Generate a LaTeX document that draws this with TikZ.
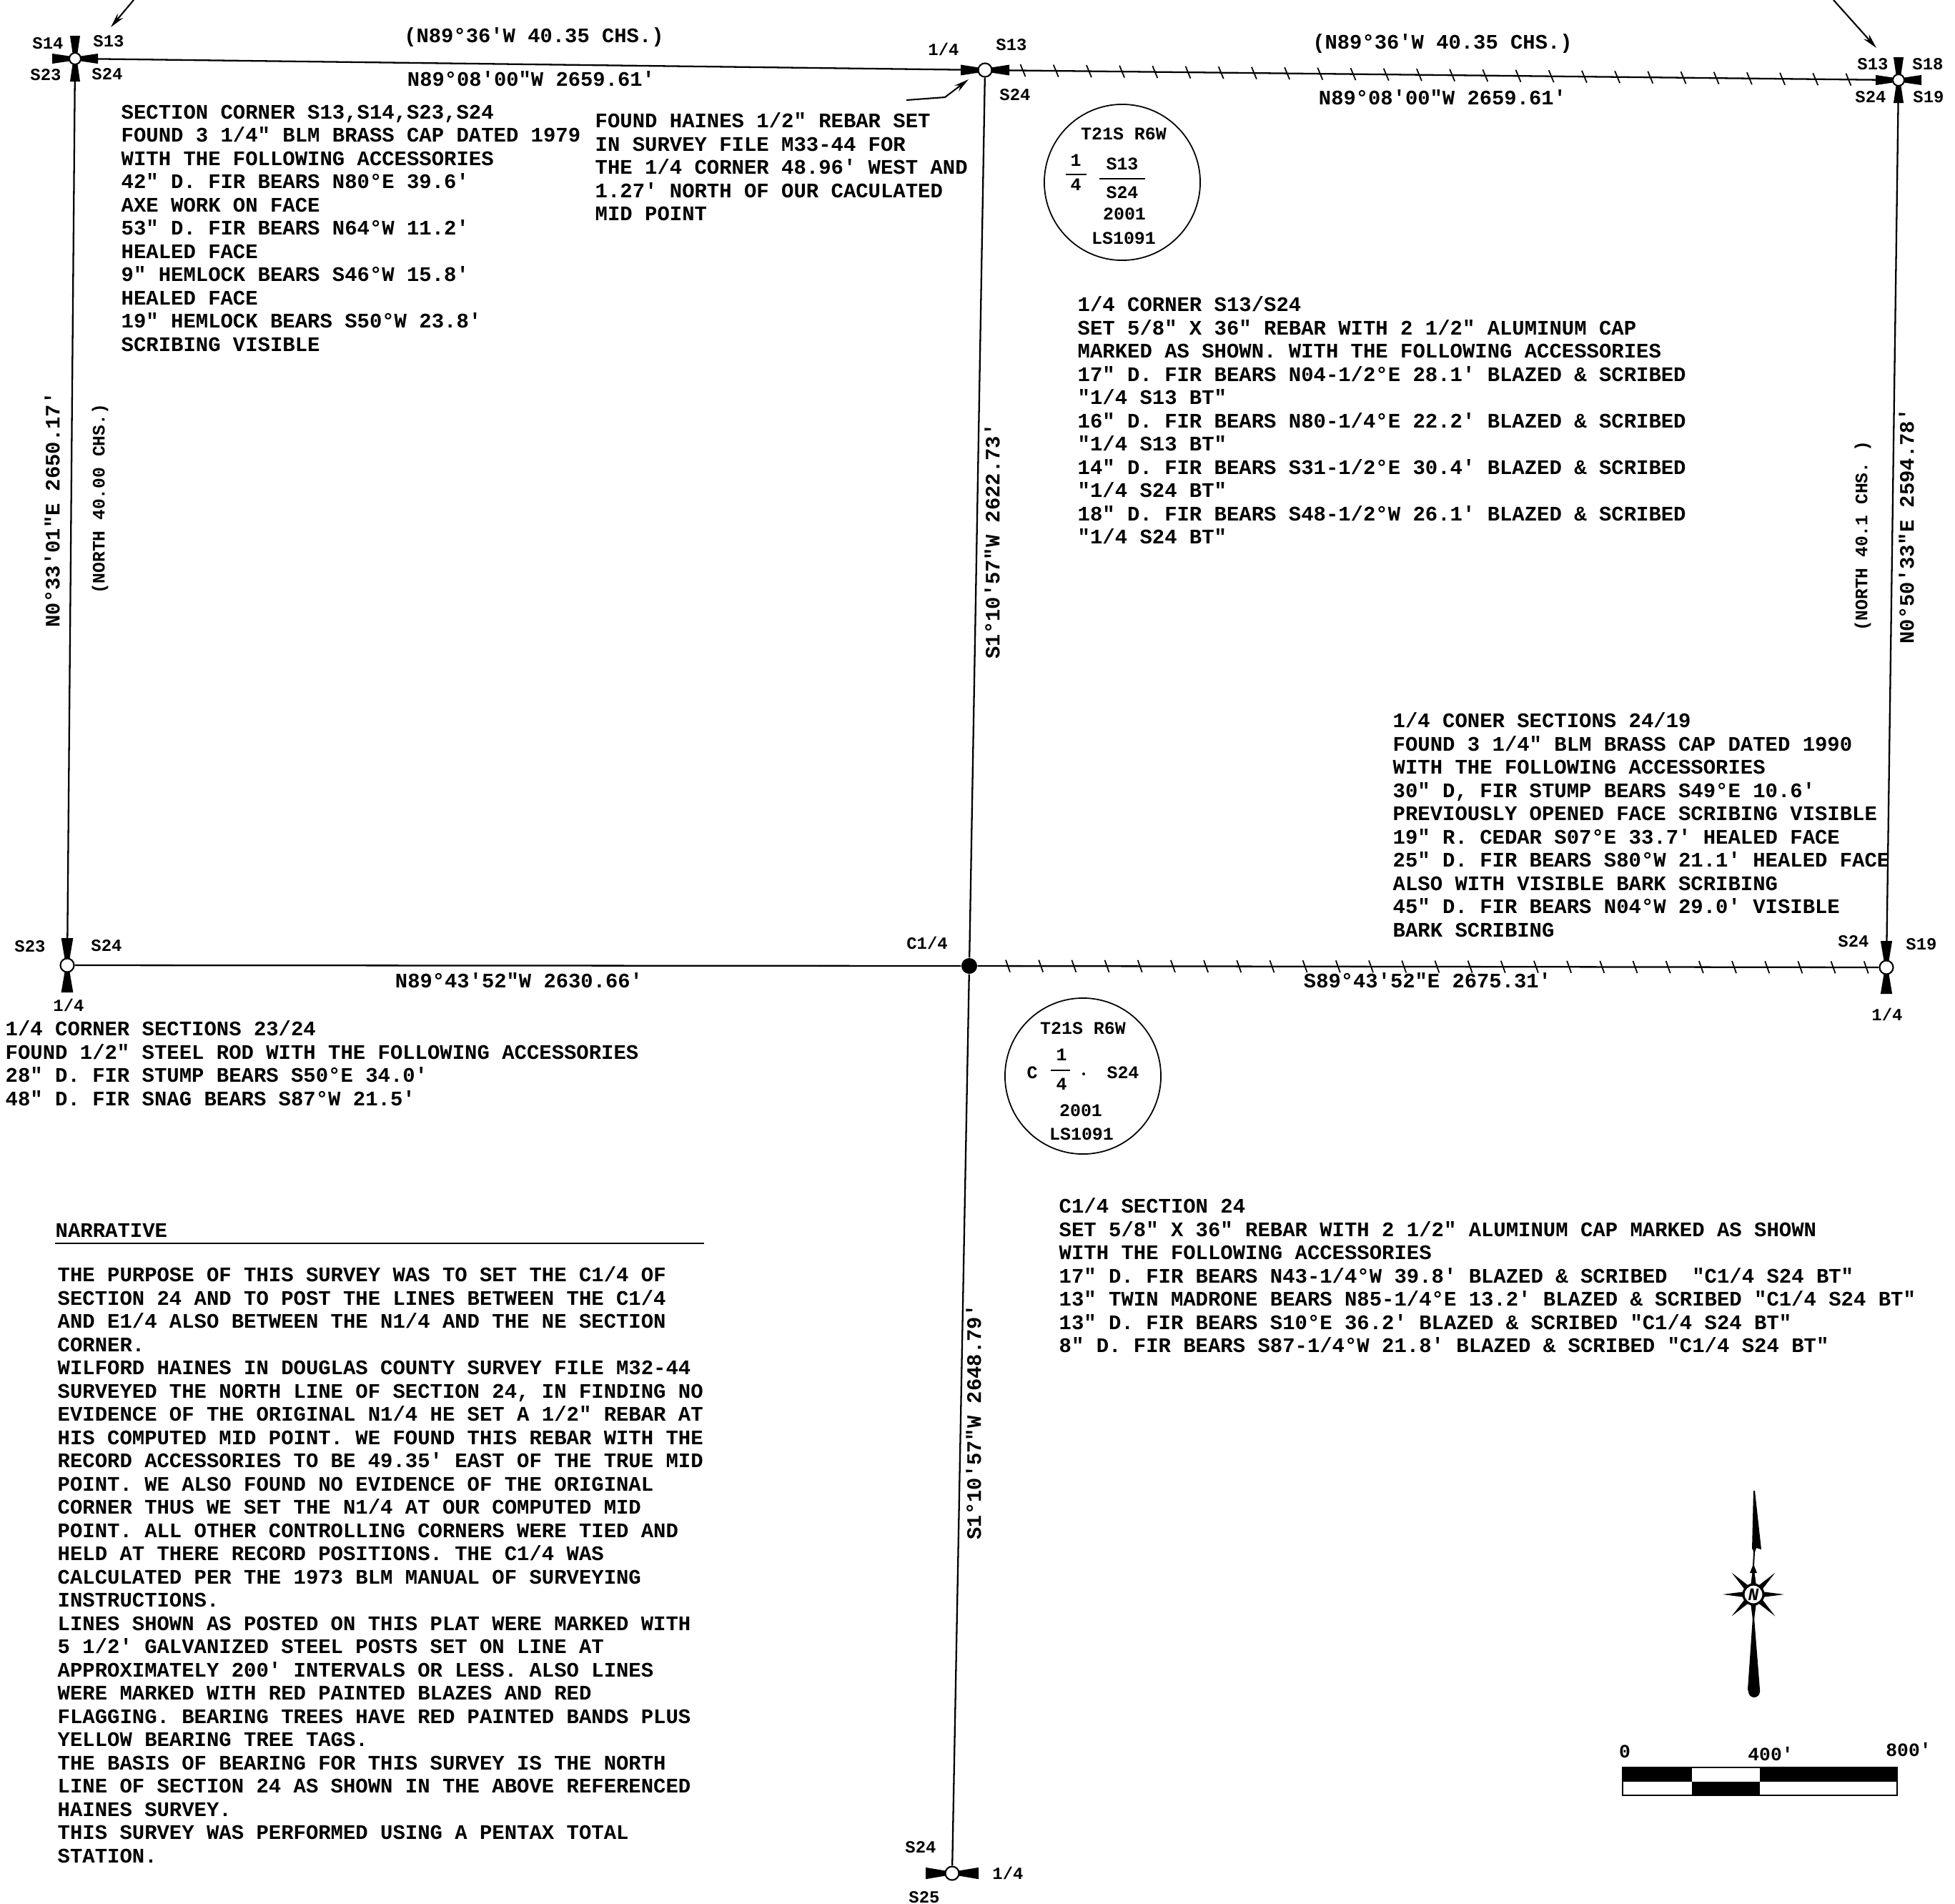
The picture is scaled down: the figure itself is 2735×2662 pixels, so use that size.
\documentclass[tikz,border=0pt]{standalone}
\usepackage{fontspec}
\usetikzlibrary{arrows.meta,calc}
\newfontfamily\platfont{Liberation Mono}
\newcommand{\barb}[3]{\fill[shift={(#1)},rotate=#2] (0.25*#3,-3.5)--(#3,-0.22*#3)--(#3,0.22*#3)--(0.25*#3,3.5)--cycle;}
\tikzset{
    platnote/.style={anchor=north west,inner sep=0pt,align=left,font=\platfont\bfseries\fontsize{8.23pt}{9.24pt}\selectfont},
    bearing/.style={inner sep=0pt,font=\platfont\bfseries\fontsize{8.2pt}{9pt}\selectfont},
    smallbearing/.style={inner sep=0pt,font=\platfont\bfseries\fontsize{7pt}{9pt}\selectfont},
    cornerlabel/.style={inner sep=0pt,font=\platfont\bfseries\fontsize{6.8pt}{8pt}\selectfont},
    sealtext/.style={inner sep=0pt,font=\platfont\bfseries\fontsize{7.1pt}{8pt}\selectfont},
    scalelabel/.style={inner sep=0pt,font=\platfont\bfseries\fontsize{7.5pt}{8pt}\selectfont},
    corner/.style={circle,draw,fill=white,inner sep=0pt,minimum size=0.16cm,line width=0.6pt},
    quartercorner/.style={corner,minimum size=0.19cm},
    platline/.style={line width=0.65pt},
    leader/.style={line width=0.6pt,-{Stealth[length=0.21cm,width=0.1cm]}},
    seal/.style={circle,draw,inner sep=0pt,line width=0.5pt,minimum size=2.18cm}
}
\begin{document}
\begin{tikzpicture}[x=0.01cm,y=-0.01cm]
            \useasboundingbox (0,0) rectangle (2735,2662);
            \node [corner] (nwcorner) at (105,82) {};
            \node [quartercorner] (nquarter) at (1378,98) {};
            \node [corner] (necorner) at (2656,112) {};
            \node [quartercorner] (wquarter) at (94,1350) {};
            \node [circle,fill=black,inner sep=0pt,minimum size=0.22cm] (center) at (1356,1351) {};
            \node [quartercorner] (equarter) at (2639,1353) {};
            \node [quartercorner] (squarter) at (1332,2620) {};
            \draw [platline] (nwcorner)--(nquarter);
            \draw [platline] (nquarter)--(necorner);
            \draw [platline] (nwcorner)--(wquarter);
            \draw [platline] (nquarter)--(center);
            \draw [platline] (necorner)--(equarter);
            \draw [platline] (wquarter)--(center);
            \draw [platline] (center)--(equarter);
            \draw [platline] (center)--(squarter);
            \foreach \i in {0,...,25} {
                \coordinate (tick) at ($(nquarter)!{0.0415+\i*0.03615}!(necorner)$);
                \draw [line width=0.5pt] ([shift={(-3.5,-8.5)}]tick)--([shift={(3.5,8.5)}]tick);
            }
            \foreach \i in {0,...,26} {
                \coordinate (tick) at ($(center)!{0.0421+\i*0.0360}!(equarter)$);
                \draw [line width=0.5pt] ([shift={(-3,-8.5)}]tick)--([shift={(3,8.5)}]tick);
            }
            \foreach \a in {0,90,180,270} {\barb{nwcorner}{\a}{32} \barb{necorner}{\a}{32}}
            \foreach \a in {0,180} {\barb{nquarter}{\a}{34} \barb{squarter}{\a}{37}}
            \foreach \a in {90,270} {\barb{wquarter}{\a}{38} \barb{equarter}{\a}{37}}
            \coordinate (nwleader) at (187,0);
            \coordinate (nwtip) at (155,38);
            \coordinate (neleader) at (2565,0);
            \coordinate (netip) at (2625,67);
            \coordinate (rebarleader) at (1268,140);
            \coordinate (rebarbend) at (1322,136);
            \coordinate (rebartip) at (1355,111);
            \draw [leader] (nwleader)--(nwtip);
            \draw [leader] (neleader)--(netip);
            \draw [leader] (rebarleader)--(rebarbend)--(rebartip);
            \node [cornerlabel] (nwa) at (67,61) {S14};
            \node [cornerlabel] (nwb) at (152,58) {S13};
            \node [cornerlabel] (nwc) at (64,105) {S23};
            \node [cornerlabel] (nwd) at (150,104) {S24};
            \node [cornerlabel] (nqa) at (1320,69) {1/4};
            \node [cornerlabel] (nqb) at (1415,63) {S13};
            \node [cornerlabel] (nqc) at (1420,133) {S24};
            \node [cornerlabel] (nea) at (2620,90) {S13};
            \node [cornerlabel] (neb) at (2697,90) {S18};
            \node [cornerlabel] (nec) at (2617,136) {S24};
            \node [cornerlabel] (ned) at (2698,136) {S19};
            \node [cornerlabel] (wqa) at (42,1324) {S23};
            \node [cornerlabel] (wqb) at (149,1323) {S24};
            \node [cornerlabel] (wqc) at (96,1406) {1/4};
            \node [cornerlabel] (ca) at (1297,1319) {C1/4};
            \node [cornerlabel] (eqa) at (2593,1317) {S24};
            \node [cornerlabel] (eqb) at (2688,1321) {S19};
            \node [cornerlabel] (eqc) at (2640,1419) {1/4};
            \node [cornerlabel] (sqa) at (1288,2584) {S24};
            \node [cornerlabel] (sqb) at (1410,2620) {1/4};
            \node [cornerlabel] (sqc) at (1293,2654) {S25};
            \node [bearing] (recnw) at (747,52) {(N89°36'W 40.35 CHS.)};
            \node [bearing] (bearnw) at (743,110) {N89°08'00"W 2659.61'};
            \node [bearing] (recne) at (2018,61) {(N89°36'W 40.35 CHS.)};
            \node [bearing] (bearne) at (2018,136) {N89°08'00"W 2659.61'};
            \node [bearing] (bearw) at (726,1371) {N89°43'52"W 2630.66'};
            \node [bearing] (beare) at (1997,1371) {S89°43'52"E 2675.31'};
            \node [bearing,rotate=90] (bearwest) at (73,713) {N0°33'01"E 2650.17'};
            \node [smallbearing,rotate=90] (recwest) at (140,698) {(NORTH 40.00 CHS.)};
            \node [bearing,rotate=90] (bearmid) at (1388,757) {S1°10'57"W 2622.73'};
            \node [bearing,rotate=90] (bearsouth) at (1362,1989) {S1°10'57"W 2648.79'};
            \node [smallbearing,rotate=90] (receast) at (2606,750) {(NORTH 40.1 CHS. )};
            \node [bearing,rotate=90] (beareast) at (2667,736) {N0°50'33"E 2594.78'};
            \node [seal] (sealn) at (1570,255) {};
            \node [sealtext] (sna) at (1572,187) {T21S R6W};
            \node [sealtext] (snb) at (1505,224) {1};
            \node [sealtext] (snc) at (1505,258) {4};
            \node [sealtext] (snd) at (1570,229) {S13};
            \node [sealtext] (sne) at (1570,269) {S24};
            \node [sealtext] (snf) at (1573,299) {2001};
            \node [sealtext] (sng) at (1572,333) {LS1091};
            \draw [line width=0.4pt] (1491,244)--(1520,244);
            \draw [line width=0.4pt] (1538,250)--(1602,250);
            \node [seal] (seals) at (1515,1505) {};
            \node [sealtext] (ssa) at (1515,1438) {T21S R6W};
            \node [sealtext] (ssb) at (1444,1500) {C};
            \node [sealtext] (ssc) at (1485,1475) {1};
            \node [sealtext] (ssd) at (1485,1516) {4};
            \node [sealtext] (sse) at (1571,1500) {S24};
            \node [sealtext] (ssf) at (1512,1553) {2001};
            \node [sealtext] (ssg) at (1513,1586) {LS1091};
            \draw [line width=0.4pt] (1470,1497)--(1497,1497);
            \fill (1516,1502) circle [radius=2];
            \node [platnote] (seccorner) at (169,146) {SECTION CORNER S13,S14,S23,S24\\
FOUND 3 1/4" BLM BRASS CAP DATED 1979\\
WITH THE FOLLOWING ACCESSORIES\\
42" D. FIR BEARS N80°E 39.6'\\
AXE WORK ON FACE\\
53" D. FIR BEARS N64°W 11.2'\\
HEALED FACE\\
9" HEMLOCK BEARS S46°W 15.8'\\
HEALED FACE\\
19" HEMLOCK BEARS S50°W 23.8'\\
SCRIBING VISIBLE};
            \node [platnote] (rebarnote) at (832,157) {FOUND HAINES 1/2" REBAR SET\\
IN SURVEY FILE M33-44 FOR\\
THE 1/4 CORNER 48.96' WEST AND\\
1.27' NORTH OF OUR CACULATED\\
MID POINT};
            \node [platnote] (northnote) at (1507,414) {1/4 CORNER S13/S24\\
SET 5/8" X 36" REBAR WITH 2 1/2" ALUMINUM CAP\\
MARKED AS SHOWN. WITH THE FOLLOWING ACCESSORIES\\
17" D. FIR BEARS N04-1/2°E 28.1' BLAZED \& SCRIBED\\
"1/4 S13 BT"\\
16" D. FIR BEARS N80-1/4°E 22.2' BLAZED \& SCRIBED\\
"1/4 S13 BT"\\
14" D. FIR BEARS S31-1/2°E 30.4' BLAZED \& SCRIBED\\
"1/4 S24 BT"\\
18" D. FIR BEARS S48-1/2°W 26.1' BLAZED \& SCRIBED\\
"1/4 S24 BT"};
            \node [platnote] (eastnote) at (1948,996) {1/4 CONER SECTIONS 24/19\\
FOUND 3 1/4" BLM BRASS CAP DATED 1990\\
WITH THE FOLLOWING ACCESSORIES\\
30" D, FIR STUMP BEARS S49°E 10.6'\\
PREVIOUSLY OPENED FACE SCRIBING VISIBLE\\
19" R. CEDAR S07°E 33.7' HEALED FACE\\
25" D. FIR BEARS S80°W 21.1' HEALED FACE\\
ALSO WITH VISIBLE BARK SCRIBING\\
45" D. FIR BEARS N04°W 29.0' VISIBLE\\
BARK SCRIBING};
            \node [platnote] (westnote) at (7,1427) {1/4 CORNER SECTIONS 23/24\\
FOUND 1/2" STEEL ROD WITH THE FOLLOWING ACCESSORIES\\
28" D. FIR STUMP BEARS S50°E 34.0'\\
48" D. FIR SNAG BEARS S87°W 21.5'};
            \node [platnote] (centernote) at (1481,1675) {C1/4 SECTION 24\\
SET 5/8" X 36" REBAR WITH 2 1/2" ALUMINUM CAP MARKED AS SHOWN\\
WITH THE FOLLOWING ACCESSORIES\\
17" D. FIR BEARS N43-1/4°W 39.8' BLAZED \& SCRIBED \ "C1/4 S24 BT"\\
13" TWIN MADRONE BEARS N85-1/4°E 13.2' BLAZED \& SCRIBED "C1/4 S24 BT"\\
13" D. FIR BEARS S10°E 36.2' BLAZED \& SCRIBED "C1/4 S24 BT"\\
8" D. FIR BEARS S87-1/4°W 21.8' BLAZED \& SCRIBED "C1/4 S24 BT"};
            \node [platnote] (narrhead) at (77,1711) {NARRATIVE};
            \coordinate (ruleleft) at (77,1739);
            \coordinate (ruleright) at (985,1739);
            \draw [line width=0.5pt] (ruleleft)--(ruleright);
            \node [platnote] (narrative) at (80,1771) {THE PURPOSE OF THIS SURVEY WAS TO SET THE C1/4 OF\\
SECTION 24 AND TO POST THE LINES BETWEEN THE C1/4\\
AND E1/4 ALSO BETWEEN THE N1/4 AND THE NE SECTION\\
CORNER.\\
WILFORD HAINES IN DOUGLAS COUNTY SURVEY FILE M32-44\\
SURVEYED THE NORTH LINE OF SECTION 24, IN FINDING NO\\
EVIDENCE OF THE ORIGINAL N1/4 HE SET A 1/2" REBAR AT\\
HIS COMPUTED MID POINT. WE FOUND THIS REBAR WITH THE\\
RECORD ACCESSORIES TO BE 49.35' EAST OF THE TRUE MID\\
POINT. WE ALSO FOUND NO EVIDENCE OF THE ORIGINAL\\
CORNER THUS WE SET THE N1/4 AT OUR COMPUTED MID\\
POINT. ALL OTHER CONTROLLING CORNERS WERE TIED AND\\
HELD AT THERE RECORD POSITIONS. THE C1/4 WAS\\
CALCULATED PER THE 1973 BLM MANUAL OF SURVEYING\\
INSTRUCTIONS.\\
LINES SHOWN AS POSTED ON THIS PLAT WERE MARKED WITH\\
5 1/2' GALVANIZED STEEL POSTS SET ON LINE AT\\
APPROXIMATELY 200' INTERVALS OR LESS. ALSO LINES\\
WERE MARKED WITH RED PAINTED BLAZES AND RED\\
FLAGGING. BEARING TREES HAVE RED PAINTED BANDS PLUS\\
YELLOW BEARING TREE TAGS.\\
THE BASIS OF BEARING FOR THIS SURVEY IS THE NORTH\\
LINE OF SECTION 24 AS SHOWN IN THE ABOVE REFERENCED\\
HAINES SURVEY.\\
THIS SURVEY WAS PERFORMED USING A PENTAX TOTAL\\
STATION.};
            \fill (2453,2085)--(2455,2085)--(2464,2167)--(2457,2165)--(2455,2171)--(2454,2190)--(2458,2200)--(2448,2200)--(2452,2190)--(2453,2171)--(2452,2166)--(2451,2167)--cycle;
            \foreach \a in {0,45,...,315} {
                \fill [shift={(2453,2230)}] (\a:43)--(\a+14:15)--(\a-14:15)--cycle;
            }
            \node [circle,draw,fill=white,line width=0.9pt,inner sep=0pt,minimum size=0.28cm,font=\platfont\bfseries\itshape\fontsize{7pt}{7pt}\selectfont] (compass) at (2453,2230) {N};
            \fill (2452,2262)--(2454,2262)--(2462,2363)--(2462,2366) arc [start angle=0,end angle=180,radius=8]--(2445,2363)--cycle;
            \node [scalelabel] (scalezero) at (2273,2450) {0};
            \node [scalelabel] (scalemid) at (2477,2453) {400'};
            \node [scalelabel] (scaleend) at (2670,2447) {800'};
            \draw [line width=0.5pt] (2270,2472) rectangle (2654,2511);
            \fill (2270,2472) rectangle (2367,2492);
            \fill (2462,2472) rectangle (2654,2492);
            \fill (2367,2492) rectangle (2462,2511);
\end{tikzpicture}
\end{document}
